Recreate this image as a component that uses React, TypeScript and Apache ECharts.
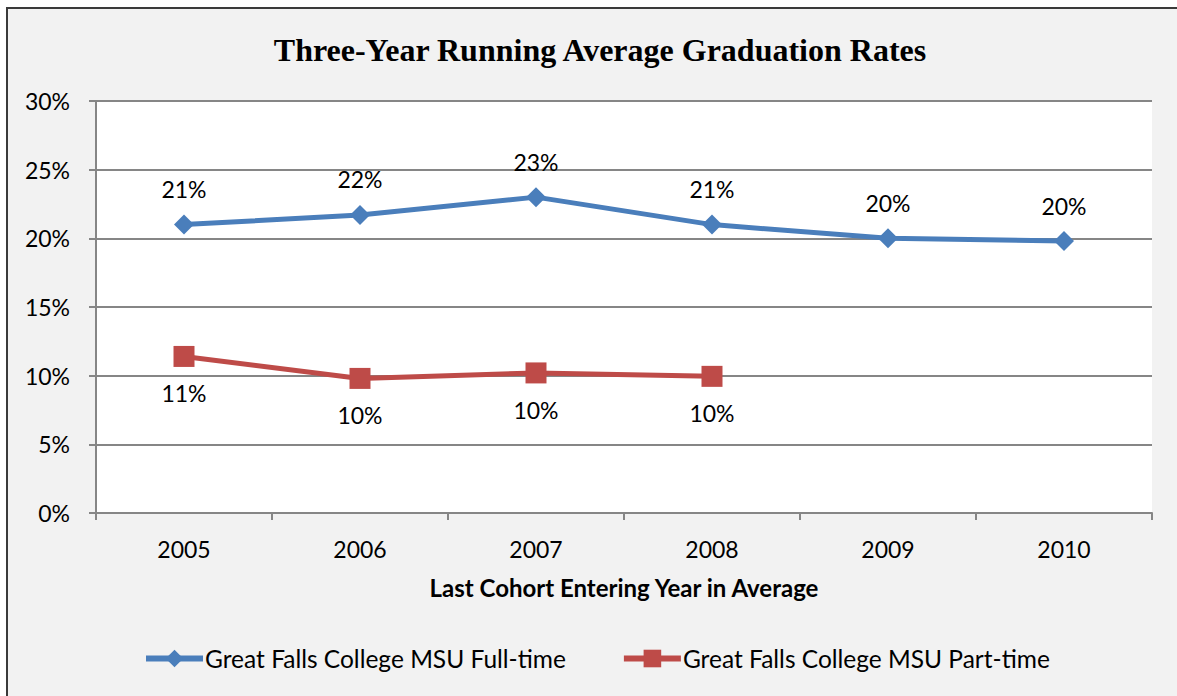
import React, { useEffect, useRef } from "react";
import * as echarts from "echarts";

const years = ["2005", "2006", "2007", "2008", "2009", "2010"];
const fullTime = [0.21, 0.217, 0.23, 0.21, 0.2, 0.198];
const partTime = [0.114, 0.098, 0.102, 0.0995, null, null];

const FONT = "Lato";

export default function App() {
  const ref = useRef<HTMLDivElement>(null);
  useEffect(() => {
    if (!ref.current) return;
    const chart = echarts.init(ref.current, undefined, { renderer: "svg" });
    const pct = (v: number) => Math.round(v * 100) + "%";
    chart.setOption({
      animation: false,
      backgroundColor: "#ffffff",
      graphic: [
        {
          type: "rect",
          z: -10,
          shape: { x: 7, y: 8, width: 1200, height: 720 },
          style: { fill: "#f2f2f2", stroke: "#3a3a3a", lineWidth: 2 },
          silent: true,
        },
      ],
      title: {
        text: "Three-Year Running Average Graduation Rates",
        left: 595,
        top: 29,
        textAlign: "center",
        textStyle: {
          fontFamily: "Liberation Serif",
          fontWeight: "bold",
          fontSize: 32,
          color: "#000",
        },
      },
      grid: {
        left: 96,
        right: 25,
        top: 101,
        bottom: 183,
        show: true,
        backgroundColor: "#ffffff",
        borderWidth: 0,
      },
      legend: {
        top: 641,
        left: 138,
        itemWidth: 57,
        itemHeight: 22,
        itemGap: 55,
        lineStyle: { width: 6 },
        textStyle: { fontFamily: FONT, fontSize: 24.5, color: "#000", padding: [0, 0, 0, -3] },
        data: [
          { name: "Great Falls College MSU Full-time" },
          { name: "Great Falls College MSU Part-time" },
        ],
      },
      xAxis: {
        type: "category",
        data: years,
        boundaryGap: true,
        name: "Last Cohort Entering Year in Average",
        nameLocation: "middle",
        nameGap: 62,
        nameTextStyle: { fontFamily: FONT, fontWeight: "bold", fontSize: 24, color: "#000" },
        axisLine: { lineStyle: { color: "#868686", width: 2 } },
        axisTick: { show: true, length: 7, alignWithLabel: false, lineStyle: { color: "#868686", width: 2 } },
        axisLabel: { fontFamily: FONT, fontSize: 23, color: "#000", margin: 24 },
      },
      yAxis: {
        type: "value",
        min: 0,
        max: 0.3,
        interval: 0.05,
        axisLine: { show: true, lineStyle: { color: "#868686", width: 2 } },
        axisTick: { show: true, length: 7, lineStyle: { color: "#868686", width: 2 } },
        axisLabel: {
          fontFamily: FONT,
          fontSize: 23,
          color: "#000",
          margin: 26,
          formatter: (v: number) => pct(v),
        },
        splitLine: { show: true, lineStyle: { color: "#868686", width: 2 } },
      },
      series: [
        {
          name: "Great Falls College MSU Full-time",
          type: "line",
          data: fullTime,
          color: "#4a7ebb",
          lineStyle: { width: 5, color: "#4a7ebb" },
          symbol: "diamond",
          symbolSize: 20,
          itemStyle: { color: "#4a7ebb" },
          label: {
            show: true,
            position: "top",
            distance: 14,
            fontFamily: FONT,
            fontSize: 23,
            color: "#000",
            formatter: (p: any) => pct(p.value),
          },
          z: 3,
        },
        {
          name: "Great Falls College MSU Part-time",
          type: "line",
          data: partTime,
          color: "#be4b48",
          lineStyle: { width: 5, color: "#be4b48" },
          symbol: "rect",
          symbolSize: 21,
          itemStyle: { color: "#be4b48" },
          label: {
            show: true,
            position: "bottom",
            distance: 15,
            fontFamily: FONT,
            fontSize: 23,
            color: "#000",
            formatter: (p: any) => pct(p.value),
          },
          z: 3,
        },
      ],
    });
    return () => chart.dispose();
  }, []);
  return (
    <div
      ref={ref}
      style={{ position: "fixed", left: 0, top: 0, width: 1177, height: 696 }}
    />
  );
}
